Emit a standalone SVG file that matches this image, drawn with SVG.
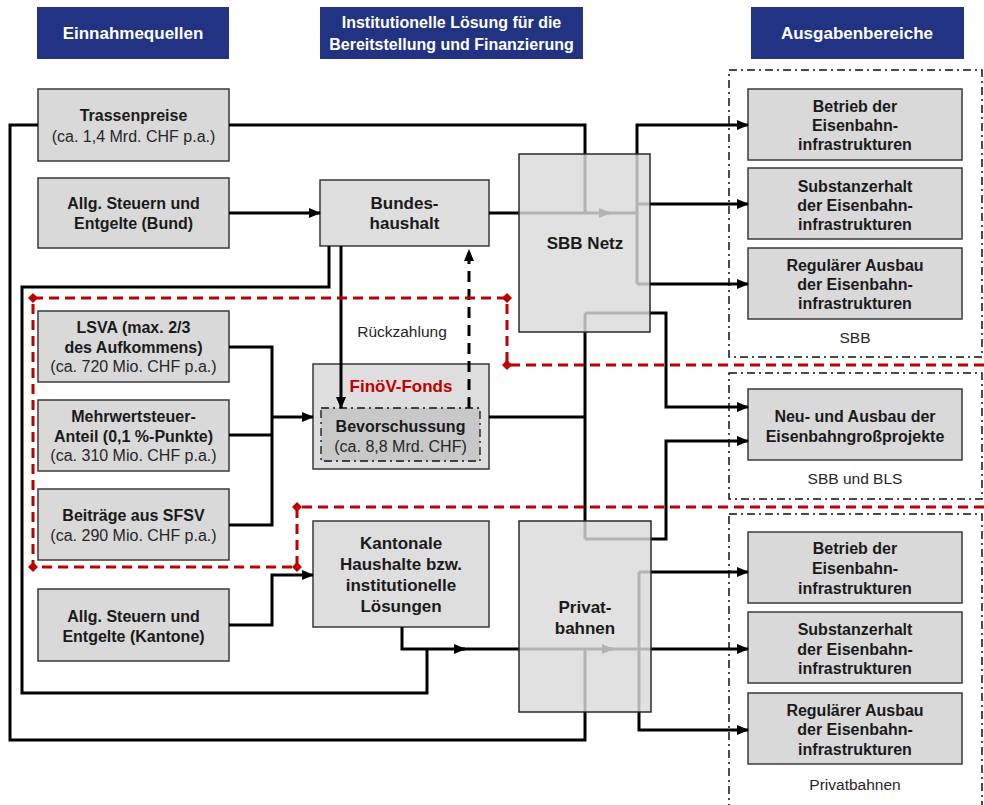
<svg xmlns="http://www.w3.org/2000/svg" width="984" height="805" viewBox="0 0 984 805">
<style>
.hdr{fill:#213382}
.ht{font-family:"Liberation Sans",Arial,sans-serif;font-size:17px;font-weight:bold;fill:#fff;text-anchor:middle}
.ht2{font-family:"Liberation Sans",Arial,sans-serif;font-size:16px;font-weight:bold;fill:#fff;text-anchor:middle}
.box{fill:#D9D9D9;stroke:#3a3a3a;stroke-width:1.5}
.mbox{fill:#DEDEDE;stroke:#3a3a3a;stroke-width:1.5}
.tbox{fill:#DADADA;fill-opacity:0.82;stroke:#2a2a2a;stroke-width:1.5}
.b{font-family:"Liberation Sans",Arial,sans-serif;font-size:16px;font-weight:bold;fill:#1a1a1a;text-anchor:middle}
.b17{font-family:"Liberation Sans",Arial,sans-serif;font-size:17px;font-weight:bold;fill:#1a1a1a;text-anchor:middle}
.r{font-family:"Liberation Sans",Arial,sans-serif;font-size:16px;fill:#262626;text-anchor:middle}
.lbl{font-family:"Liberation Sans",Arial,sans-serif;font-size:15.5px;fill:#262626;text-anchor:middle}
.grp{fill:none;stroke:#111;stroke-width:1.5;stroke-dasharray:8 4 2 4}
.ln{fill:none;stroke:#000;stroke-width:3}
.ar{marker-end:url(#arr)}
.dash{stroke-dasharray:11 7}
.red{fill:none;stroke:#C00000;stroke-width:3;stroke-dasharray:10 6;marker-mid:url(#dia)}
</style>
<defs>
<marker id="arr" markerUnits="userSpaceOnUse" markerWidth="12" markerHeight="10" refX="11" refY="5" orient="auto">
<path d="M0,0 L12,5 L0,10 z" fill="#000"/>
</marker>
<marker id="dia" markerUnits="userSpaceOnUse" markerWidth="10" markerHeight="10" refX="5" refY="5" orient="0">
<path d="M0,5 L5,0 L10,5 L5,10 z" fill="#C00000"/>
</marker>
</defs>
<rect width="984" height="805" fill="#fff"/>

<g id="headers">
<rect class="hdr" x="37" y="7" width="192" height="52"/>
<text class="ht" x="133" y="39">Einnahmequellen</text>
<rect class="hdr" x="320" y="7" width="263" height="52"/>
<text class="ht2" x="451.5" y="28">Institutionelle Lösung für die</text>
<text class="ht2" x="451.5" y="50">Bereitstellung und Finanzierung</text>
<rect class="hdr" x="751" y="7" width="213" height="52"/>
<text class="ht" x="857" y="39">Ausgabenbereiche</text>
</g>

<g id="groups">
<rect class="grp" x="729" y="70" width="253" height="287"/>
<text class="lbl" x="855" y="343">SBB</text>
<rect class="grp" x="729" y="373" width="253" height="126"/>
<text class="lbl" x="855" y="484">SBB und  BLS</text>
<rect class="grp" x="729" y="514" width="253" height="310"/>
<text class="lbl" x="855" y="790">Privatbahnen</text>
</g>

<g id="trassenpreise">
<rect class="box" x="38" y="89" width="191" height="72"/>
<text class="b" x="133.5" y="121">Trassenpreise</text>
<text class="r" x="133.5" y="142">(ca. 1,4 Mrd. CHF p.a.)</text>
</g>
<g id="steuern-bund">
<rect class="box" x="38" y="178" width="191" height="70"/>
<text class="b" x="133.5" y="209">Allg. Steuern und</text>
<text class="b" x="133.5" y="229">Entgelte (Bund)</text>
</g>
<g id="lsva">
<rect class="box" x="38" y="311" width="191" height="71"/>
<text class="b" x="133.5" y="333">LSVA (max. 2/3</text>
<text class="b" x="133.5" y="353">des Aufkommens)</text>
<text class="r" x="133.5" y="372">(ca. 720 Mio. CHF p.a.)</text>
</g>
<g id="mwst">
<rect class="box" x="38" y="400" width="191" height="71"/>
<text class="b" x="133.5" y="422">Mehrwertsteuer-</text>
<text class="b" x="133.5" y="442">Anteil (0,1 %-Punkte)</text>
<text class="r" x="133.5" y="461">(ca. 310 Mio. CHF p.a.)</text>
</g>
<g id="sfsv">
<rect class="box" x="38" y="489" width="191" height="71"/>
<text class="b" x="133.5" y="521">Beiträge aus SFSV</text>
<text class="r" x="133.5" y="541">(ca. 290 Mio. CHF p.a.)</text>
</g>
<g id="steuern-kantone">
<rect class="box" x="38" y="589" width="191" height="72"/>
<text class="b" x="133.5" y="622">Allg. Steuern und</text>
<text class="b" x="133.5" y="642">Entgelte (Kantone)</text>
</g>

<g id="bundeshaushalt">
<rect class="mbox" x="320" y="180" width="169" height="66"/>
<text class="b17" x="404.5" y="209">Bundes-</text>
<text class="b17" x="404.5" y="229">haushalt</text>
</g>
<g id="finoev">
<rect class="mbox" x="313" y="364" width="176" height="105"/>
<text class="b17" x="401" y="392" style="fill:#C00000">FinöV-Fonds</text>
<rect x="321" y="408" width="159" height="53" fill="#C8C8C8" stroke="#111" stroke-width="1.3" stroke-dasharray="8 4 2 4"/>
<text class="b" x="400.5" y="432">Bevorschussung</text>
<text class="r" x="400.5" y="452">(ca. 8,8 Mrd. CHF)</text>
</g>
<g id="kantonale">
<rect class="mbox" x="313" y="521" width="176" height="106"/>
<text class="b17" x="401" y="549">Kantonale</text>
<text class="b17" x="401" y="570">Haushalte bzw.</text>
<text class="b17" x="401" y="591">institutionelle</text>
<text class="b17" x="401" y="612">Lösungen</text>
</g>

<g id="sbb-betrieb">
<rect class="box" x="748" y="89" width="214" height="71"/>
<text class="b" x="855" y="112">Betrieb der</text>
<text class="b" x="855" y="131">Eisenbahn-</text>
<text class="b" x="855" y="150">infrastrukturen</text>
</g>
<g id="sbb-substanz">
<rect class="box" x="748" y="168" width="214" height="71"/>
<text class="b" x="855" y="192">Substanzerhalt</text>
<text class="b" x="855" y="211">der Eisenbahn-</text>
<text class="b" x="855" y="230">infrastrukturen</text>
</g>
<g id="sbb-ausbau">
<rect class="box" x="748" y="248" width="214" height="71"/>
<text class="b" x="855" y="271">Regulärer Ausbau</text>
<text class="b" x="855" y="290">der Eisenbahn-</text>
<text class="b" x="855" y="309">infrastrukturen</text>
</g>
<g id="grossprojekte">
<rect class="box" x="748" y="389" width="214" height="71"/>
<text class="b" x="855" y="422">Neu- und Ausbau der</text>
<text class="b" x="855" y="442">Eisenbahngroßprojekte</text>
</g>
<g id="pb-betrieb">
<rect class="box" x="748" y="532" width="214" height="71"/>
<text class="b" x="855" y="554">Betrieb der</text>
<text class="b" x="855" y="574">Eisenbahn-</text>
<text class="b" x="855" y="594">infrastrukturen</text>
</g>
<g id="pb-substanz">
<rect class="box" x="748" y="612" width="214" height="71"/>
<text class="b" x="855" y="635">Substanzerhalt</text>
<text class="b" x="855" y="655">der Eisenbahn-</text>
<text class="b" x="855" y="674">infrastrukturen</text>
</g>
<g id="pb-ausbau">
<rect class="box" x="748" y="693" width="214" height="71"/>
<text class="b" x="855" y="716">Regulärer Ausbau</text>
<text class="b" x="855" y="735">der Eisenbahn-</text>
<text class="b" x="855" y="755">infrastrukturen</text>
</g>

<g id="connectors">
<path class="ln" d="M229,125 H585 V213"/>
<path class="ln" d="M38,125 H10 V740 H585 V649"/>
<path class="ln ar" d="M229,213 H320"/>
<path class="ln ar" d="M489,213 H610"/>
<path class="ln" d="M605,213 H637"/>
<path class="ln" d="M329,246 V287 H22 V693 H427 V649"/>
<path class="ln ar" d="M341,246 V408"/>
<path class="ln dash ar" d="M469,408 V250"/>
<path class="ln" d="M229,347 H272 V525 H229"/>
<path class="ln" d="M229,435 H272"/>
<path class="ln ar" d="M272,417 H313"/>
<path class="ln" d="M489,417 H585"/>
<path class="ln" d="M585,313 V539"/>
<path class="ln ar" d="M585,313 H666 V407 H748"/>
<path class="ln ar" d="M585,539 H666 V441 H748"/>
<path class="ln ar" d="M229,625 H272 V575 H313"/>
<path class="ln ar" d="M402,627 V649 H465"/>
<path class="ln ar" d="M455,649 H613"/>
<path class="ln ar" d="M605,649 H748"/>
<path class="ln ar" d="M637,284 V125 H748"/>
<path class="ln ar" d="M637,204 H748"/>
<path class="ln ar" d="M637,284 H748"/>
<path class="ln ar" d="M639,572 H748"/>
<path class="ln ar" d="M639,572 V730 H748"/>
</g>

<g id="sbb-netz">
<rect class="tbox" x="519" y="154" width="131" height="178"/>
<text class="b17" x="585" y="249">SBB Netz</text>
</g>
<g id="privatbahnen">
<rect class="tbox" x="519" y="521" width="132" height="191"/>
<text class="b17" x="585" y="613">Privat-</text>
<text class="b17" x="585" y="634">bahnen</text>
</g>

<g id="boundary">
<path class="red" d="M984,365 H507 V298 H33 V567 H297 V507 H984"/>
</g>

<text class="lbl" x="402" y="337">Rückzahlung</text>
</svg>
